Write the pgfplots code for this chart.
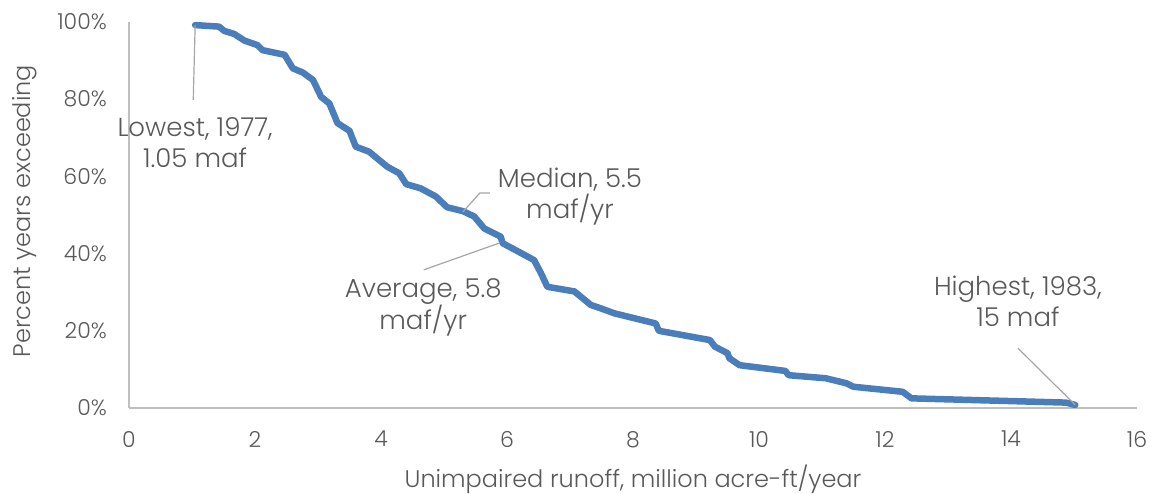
\documentclass[border=0pt]{standalone}
\usepackage{fontspec}
\setmainfont{Poppins}[UprightFont=* Light]
\usepackage{pgfplots}
\pgfplotsset{compat=1.18}
\definecolor{runoff}{HTML}{4A7EBB}
\definecolor{txt}{HTML}{595959}
\definecolor{axgray}{HTML}{BFBFBF}
\definecolor{lead}{HTML}{A6A6A6}
\begin{document}
\begin{tikzpicture}
\useasboundingbox (-129pt,-86pt) rectangle (1024pt,408pt);
\begin{axis}[
  scale only axis, width=1008pt, height=386pt,
  xmin=0, xmax=16, ymin=0, ymax=100,
  axis lines*=left,
  axis line style={axgray, line width=1.3pt, -},
  xtick={0,2,...,16}, ytick={0,20,...,100},
  major tick length=0pt,
  tick style={draw=none},
  /pgf/number format/assume math mode=true,
  ticklabel style={font=\fontsize{22}{26}\selectfont, text=txt},
  yticklabel={\pgfmathprintnumber{\tick}\%},
  yticklabel style={inner sep=0pt, anchor=east, xshift=-22pt},
  xticklabel style={inner sep=0pt, anchor=north, yshift=-23pt},
  xlabel={Unimpaired runoff, million acre-ft/year},
  ylabel={Percent years exceeding},
  label style={font=\fontsize{24}{28}\selectfont, text=txt},
  xlabel style={at={(axis description cs:0.5,0)}, anchor=center, yshift=-71pt},
  ylabel style={at={(axis description cs:-0.1032,0.51)}, anchor=center},
  clip=false,
]
\addplot[runoff, line width=6.5pt, line join=round, line cap=round] coordinates {
(1.05,99.2) (1.43,98.8) (1.51,97.7) (1.67,96.9) (1.83,95.2) (2.04,94.0)
(2.12,92.7) (2.47,91.5) (2.60,88.0) (2.76,86.9) (2.92,85.0) (3.05,80.6)
(3.18,78.9) (3.31,73.8) (3.50,71.8) (3.60,67.7) (3.81,66.4) (4.10,62.5)
(4.29,60.8) (4.40,58.0) (4.63,56.9) (4.87,54.8) (5.05,52.0) (5.30,51.0)
(5.48,49.6) (5.64,46.5) (5.90,44.4) (5.93,42.7) (6.33,39.2) (6.43,38.3)
(6.54,34.9) (6.64,31.4) (7.07,30.2) (7.33,26.7) (7.49,25.8) (7.71,24.5)
(8.36,21.9) (8.41,20.0) (9.22,17.6) (9.30,15.9) (9.50,14.2) (9.53,12.9)
(9.69,11.1) (10.42,9.6) (10.47,8.5) (11.06,7.7) (11.39,6.4) (11.50,5.5)
(12.28,4.2) (12.42,2.5) (14.87,1.4) (15.02,0.8)
};
\draw[lead, line width=1.2pt] (axis cs:1.05,99.2) -- (axis cs:1.02,79.8);
\draw[lead, line width=1.2pt] (axis cs:5.30,50.8) -- (axis cs:5.57,55.7) -- (axis cs:5.73,55.7);
\draw[lead, line width=1.2pt] (axis cs:5.89,42.8) -- (axis cs:4.68,35.8);
\draw[lead, line width=1.2pt] (axis cs:14.11,15.5) -- (axis cs:15.02,0.8);
\tikzset{ann/.style={align=center, text=txt, font=\fontsize{26}{31}\selectfont, inner sep=0pt}}
\node[ann] at (axis cs:1.05,68.7) {Lowest, 1977,\\1.05 maf};
\node[ann] at (axis cs:7.0,54.9) {Median, 5.5\\maf/yr};
\node[ann] at (axis cs:4.67,26.0) {Average, 5.8\\maf/yr};
\node[ann] at (axis cs:14.11,27.7) {Highest, 1983,\\15 maf};
\end{axis}
\end{tikzpicture}
\end{document}
